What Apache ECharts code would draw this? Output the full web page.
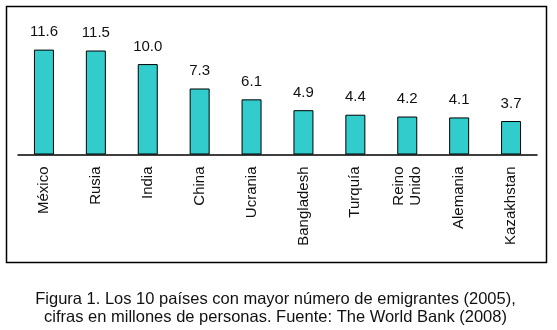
<!DOCTYPE html>
<html>
<head>
<meta charset="utf-8">
<script src="https://cdn.jsdelivr.net/npm/echarts@6/dist/echarts.min.js"></script>
<style>
  html, body { margin: 0; padding: 0; background: #fff; }
  #chart { width: 557px; height: 330px; }
</style>
</head>
<body>
<div id="chart"></div>
<script>
// paises con mas emigrantes, 2005 (millones)
const paises = ['México', 'Rusia', 'India', 'China', 'Ucrania', 'Bangladesh', 'Turquía', 'Reino\nUnido', 'Alemania', 'Kazakhstan'];
const emigrantes = [11.6, 11.5, 10.0, 7.3, 6.1, 4.9, 4.4, 4.2, 4.1, 3.7];
const pie = ['Figura 1. Los 10 países con mayor número de emigrantes (2005),', 'cifras en millones de personas. Fuente: The World Bank (2008)'];

const myChart = echarts.init(document.getElementById('chart'));

const option = {
    backgroundColor: '#fff',
    animation: false,
    grid: { left: 18, right: 20, top: 46, bottom: 175.5 },
    graphic: [
        {
            type: 'rect',
            shape: { x: 6.5, y: 6.5, width: 540, height: 256 },
            style: { fill: 'none', stroke: '#000', lineWidth: 1.5 },
            z: -1
        },
        {
            type: 'text',
            x: 275.5,
            y: 308.5,
            style: {
                text: pie.join('\n'),
                align: 'center',
                verticalAlign: 'middle',
                font: '16.5px "Liberation Sans", Arial',
                lineHeight: 18,
                fill: '#111'
            }
        }
    ],
    xAxis: {
        type: 'category',
        data: paises,
        axisLine: { lineStyle: { color: '#000', width: 1.5 } },
        axisTick: { show: false },
        axisLabel: {
            rotate: 90,
            interval: 0,
            margin: 12,
            color: '#111',
            fontFamily: 'Liberation Sans, Arial',
            fontSize: 15,
            lineHeight: 17
        }
    },
    yAxis: {
        type: 'value',
        min: 0,
        max: 12,
        show: false
    },
    series: [
        {
            type: 'bar',
            data: emigrantes,
            barWidth: 20,
            itemStyle: { color: '#33CCCC', borderColor: '#000', borderWidth: 1 },
            label: {
                show: true,
                position: 'top',
                distance: 10,
                formatter: (p) => p.value.toFixed(1),
                color: '#111',
                fontFamily: 'Liberation Sans, Arial',
                fontSize: 15
            }
        }
    ]
};

myChart.setOption(option);
</script>
</body>
</html>
